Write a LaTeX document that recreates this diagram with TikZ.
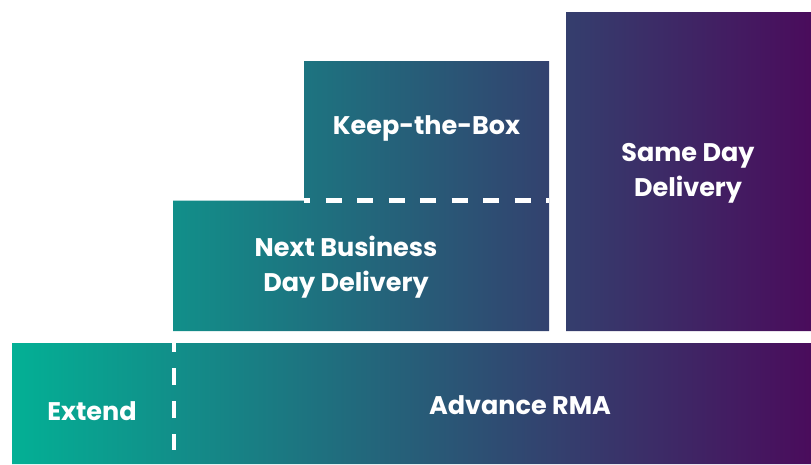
\documentclass[tikz,border=0pt]{standalone}
\usepackage{fontspec}
\setmainfont{Poppins}
\begin{document}
\begin{tikzpicture}[x=1pt,y=-1pt,
  box/.style={rectangle,inner sep=0pt,outer sep=0pt},
  lbl/.style={text=white,font=\bfseries\fontsize{25.5}{35}\selectfont,align=center,inner sep=0pt},
  sep/.style={white,line width=4.5pt,dash pattern=on 16pt off 15.5pt}]
\definecolor{gL}{HTML}{03B095}
\definecolor{gR}{HTML}{4A0C5C}
\useasboundingbox (0,0) rectangle (811,464);
% boxes (invisible frames)
\node[box,minimum width=245pt,minimum height=139.5pt] (keep) at (426.5,130.75) {};
\node[box,minimum width=376pt,minimum height=130.5pt] (next) at (361,265.75) {};
\node[box,minimum width=245pt,minimum height=319pt] (same) at (688.5,171.5) {};
\node[box,minimum width=799pt,minimum height=121pt] (bar) at (411.5,403.5) {};
% one horizontal shading across all shapes
\shade[left color=gL,right color=gR]
  (keep.north west) rectangle (keep.south east)
  (next.north west) rectangle (next.south east)
  (same.north west) rectangle (same.south east)
  (bar.north west) rectangle (bar.south east);
% dashed separators
\coordinate (hs) at (304,200.5);
\coordinate (he) at (549,200.5);
\draw[sep,dash phase=10pt] (hs) -- (he);
\coordinate (vs) at (173.5,343);
\coordinate (ve) at (173.5,450);
\draw[sep,line width=4pt,dash pattern=on 17pt off 16pt,dash phase=8pt] (vs) -- (ve);
% labels
\node[lbl] (tkeep) at (426.5,128.5) {Keep-the-Box};
\node[lbl] (tnext) at (346,267.5) {Next Business\\Day Delivery};
\node[lbl] (tsame) at (688,173.5) {Same Day\\Delivery};
\node[lbl] (text) at (92,411.5) {Extend};
\node[lbl] (tadv) at (520,405) {Advance RMA};
\end{tikzpicture}
\end{document}
